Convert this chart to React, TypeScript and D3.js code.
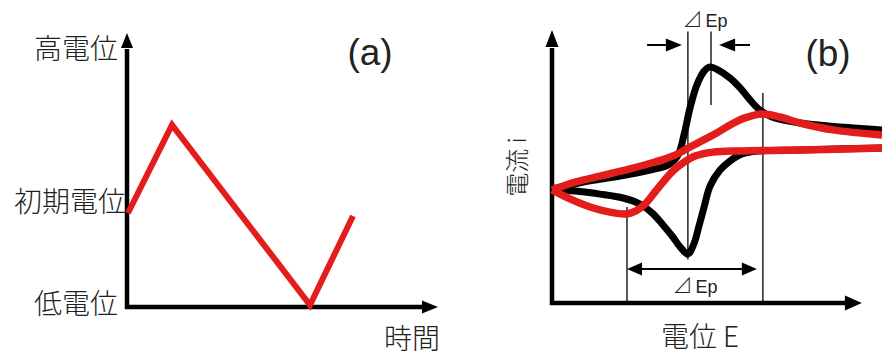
import React from "react";
import * as d3 from "d3";

// ---------- Panel (a): potential sweep vs time ----------
const sweepTime = [0.1, 4.5, 18.3, 22.6];
const sweepPotential = [9.4, 18.2, 0.2, 9.1];
const potentialLabels = ["高電位", "初期電位", "低電位"];
const potentialLabelValues = [26.0, 10.7, 0.5];
const timeLabel = "時間";

// ---------- Panel (b): cyclic voltammograms ----------
const blackForwardE = [0, 1.27, 2.27, 3.27, 3.87, 4.2, 4.4, 4.6, 4.83, 5.07, 5.27, 5.53, 5.93, 6.27, 6.6, 6.93, 7.33, 8.27, 9.6, 11.0];
const blackForwardI = [0, 0.27, 0.43, 0.63, 0.8, 1.13, 1.8, 2.7, 3.47, 3.93, 4.07, 3.97, 3.7, 3.37, 2.97, 2.63, 2.4, 2.2, 2.07, 1.97];
const blackReverseE = [11.0, 8.27, 6.93, 6.33, 5.93, 5.6, 5.27, 5.07, 4.9, 4.73, 4.53, 4.27, 4.03, 3.7, 3.37, 2.93, 2.37, 1.6, 0.77, 0];
const blackReverseI = [1.37, 1.3, 1.27, 1.17, 0.93, 0.63, 0.1, -0.6, -1.23, -1.83, -2.17, -1.93, -1.6, -1.2, -0.83, -0.5, -0.3, -0.17, -0.07, 0];
const redForwardE = [0, 0.77, 1.6, 2.6, 3.43, 4.03, 4.6, 4.93, 5.43, 5.93, 6.43, 7.0, 7.6, 8.27, 9.37, 11.0];
const redForwardI = [-0.03, 0.23, 0.43, 0.67, 0.9, 1.1, 1.4, 1.57, 1.83, 2.13, 2.37, 2.5, 2.4, 2.2, 1.97, 1.8];
const redReverseE = [11.0, 8.27, 6.27, 5.37, 4.77, 4.37, 4.03, 3.7, 3.43, 3.1, 2.8, 2.47, 1.93, 1.27, 0.6, 0];
const redReverseI = [1.37, 1.3, 1.27, 1.23, 1.1, 0.87, 0.6, 0.23, -0.1, -0.5, -0.73, -0.83, -0.77, -0.6, -0.33, -0.03];

// peak potentials (black: reversible, red: quasi-reversible)
const blackAnodicEp = 5.3;
const blackCathodicEp = 4.53;
const redAnodicEp = 7.03;
const redCathodicEp = 2.5;

const deltaSymbol = "⊿";
const deltaText = "Ep";
const currentLabel = "電流 i";
const potentialAxisLabel = "電位 E";
const panelLabels = ["(a)", "(b)"];

const W = 882;
const H = 356;
const RED = "#e31c1c";
const CJK = "'Noto Sans CJK JP', 'Noto Sans CJK SC', sans-serif";
const LATIN = "'Liberation Sans', Arial, 'Noto Sans CJK JP', sans-serif";

function arrowHead(tx: number, ty: number, dir: "up" | "right" | "left", len: number, half: number) {
  const p = d3.path();
  p.moveTo(tx, ty);
  if (dir === "up") {
    p.lineTo(tx - half, ty + len);
    p.lineTo(tx + half, ty + len);
  } else if (dir === "right") {
    p.lineTo(tx - len, ty - half);
    p.lineTo(tx - len, ty + half);
  } else {
    p.lineTo(tx + len, ty - half);
    p.lineTo(tx + len, ty + half);
  }
  p.closePath();
  return p.toString();
}

function DeltaEp({ x, y }: { x: number; y: number }) {
  return (
    <text x={x} y={y} textAnchor="middle" fontFamily={LATIN} fontSize={18} fill="#222">
      <tspan fontFamily={CJK} fontSize={20} fontWeight={300}>
        {deltaSymbol}
      </tspan>
      <tspan dx={3}>{deltaText}</tspan>
    </text>
  );
}

export default function App() {
  // Panel (a) scales
  const ax = d3.scaleLinear().domain([0, 31]).range([127, 437]);
  const ay = d3.scaleLinear().domain([0, 27.4]).range([307, 33]);
  const aLine = d3
    .line<number>()
    .x((_, i) => ax(sweepTime[i]))
    .y((v) => ay(v));

  // Panel (b) scales
  const bx = d3.scaleLinear().domain([0, 11]).range([552, 882]);
  const by = d3.scaleLinear().domain([-3.8, 5.3]).range([303, 30]);
  const cv = (E: number[], I: number[]) =>
    d3
      .line<number>()
      .x((e) => bx(e))
      .y((_, k) => by(I[k]))
      .curve(d3.curveCatmullRom.alpha(0.5))(E) as string;

  const aAxisX = ax(0);
  const aAxisY = ay(0);
  const bAxisX = bx(0);
  const bAxisY = by(-3.8);

  const topArrowY = by(4.8);
  const botArrowY = by(-2.67);

  return (
    <svg
      width={W}
      height={H}
      viewBox={`0 0 ${W} ${H}`}
      style={{ position: "absolute", left: 0, top: 0, background: "#fff" }}
    >
      <rect width={W} height={H} fill="#fff" />

      {/* ---------- Panel (a) ---------- */}
      <line x1={aAxisX} y1={aAxisY + 2} x2={aAxisX} y2={ay(25.8)} stroke="#000" strokeWidth={4.5} />
      <path d={arrowHead(aAxisX, ay(27.4), "up", 15, 6)} fill="#000" />
      <line x1={aAxisX - 2} y1={aAxisY} x2={ax(29.7)} y2={aAxisY} stroke="#000" strokeWidth={4.5} />
      <path d={arrowHead(ax(31.1), aAxisY, "right", 16, 6.5)} fill="#000" />
      <path d={aLine(sweepPotential) as string} fill="none" stroke={RED} strokeWidth={6} strokeLinejoin="miter" />

      {potentialLabels.map((t, i) => (
        <text
          key={t}
          x={i === 1 ? 126 : 118}
          y={ay(potentialLabelValues[i])}
          textAnchor="end"
          dominantBaseline="central"
          fontFamily={CJK}
          fontSize={28}
          fontWeight={300}
          fill="#222"
        >
          {t}
        </text>
      ))}
      <text x={384} y={337} dominantBaseline="central" fontFamily={CJK} fontSize={28} fontWeight={300} fill="#222">
        {timeLabel}
      </text>
      <text x={370} y={65} textAnchor="middle" fontFamily={LATIN} fontSize={37} fill="#222">
        {panelLabels[0]}
      </text>

      {/* ---------- Panel (b) ---------- */}
      <line x1={bAxisX} y1={bAxisY + 2} x2={bAxisX} y2={by(4.7)} stroke="#000" strokeWidth={4.5} />
      <path d={arrowHead(bAxisX, by(5.3), "up", 17, 6.5)} fill="#000" />
      <line x1={bAxisX - 2} y1={bAxisY} x2={bx(9.9)} y2={bAxisY} stroke="#000" strokeWidth={4.5} />
      <path d={arrowHead(bx(10.33), bAxisY, "right", 17, 7.5)} fill="#000" />

      {/* peak marker lines */}
      <line x1={bx(blackCathodicEp)} y1={by(5.25)} x2={bx(blackCathodicEp)} y2={by(-2.35)} stroke="#000" strokeWidth={1.3} />
      <line x1={bx(blackAnodicEp)} y1={by(5.25)} x2={bx(blackAnodicEp)} y2={by(2.8)} stroke="#000" strokeWidth={1.3} />
      <line x1={bx(redCathodicEp)} y1={by(-0.6)} x2={bx(redCathodicEp)} y2={bAxisY} stroke="#000" strokeWidth={1.3} />
      <line x1={bx(redAnodicEp)} y1={by(3.2)} x2={bx(redAnodicEp)} y2={bAxisY} stroke="#000" strokeWidth={1.3} />

      {/* top ΔEp arrows */}
      <line x1={bx(3.17)} y1={topArrowY} x2={bx(4.0)} y2={topArrowY} stroke="#000" strokeWidth={2} />
      <path d={arrowHead(bx(4.33), topArrowY, "right", 16, 6.5)} fill="#000" />
      <line x1={bx(6.6)} y1={topArrowY} x2={bx(5.9)} y2={topArrowY} stroke="#000" strokeWidth={2} />
      <path d={arrowHead(bx(5.57), topArrowY, "left", 16, 6.5)} fill="#000" />

      {/* bottom ΔEp double arrow */}
      <line x1={bx(redCathodicEp) + 10} y1={botArrowY} x2={bx(6.83) - 10} y2={botArrowY} stroke="#000" strokeWidth={2} />
      <path d={arrowHead(bx(redCathodicEp), botArrowY, "left", 15, 6.5)} fill="#000" />
      <path d={arrowHead(bx(6.83), botArrowY, "right", 15, 6.5)} fill="#000" />

      {/* curves */}
      <path d={cv(blackForwardE, blackForwardI)} fill="none" stroke="#000" strokeWidth={7} strokeLinejoin="round" />
      <path d={cv(blackReverseE, blackReverseI)} fill="none" stroke="#000" strokeWidth={7} strokeLinejoin="round" />
      <path d={cv(redForwardE, redForwardI)} fill="none" stroke={RED} strokeWidth={7.5} strokeLinejoin="round" />
      <path d={cv(redReverseE, redReverseI)} fill="none" stroke={RED} strokeWidth={7.5} strokeLinejoin="round" />

      {/* texts */}
      <DeltaEp x={705} y={27} />
      <DeltaEp x={695} y={293} />
      <text
        x={515}
        y={167}
        textAnchor="middle"
        dominantBaseline="central"
        transform="rotate(-90 515 167)"
        fontFamily={CJK}
        fontSize={24}
        fontWeight={300}
        fill="#222"
      >
        {currentLabel}
      </text>
      <text x={700} y={335} textAnchor="middle" dominantBaseline="central" fontFamily={CJK} fontSize={28} fontWeight={300} fill="#222">
        {potentialAxisLabel}
      </text>
      <text x={828} y={66} textAnchor="middle" fontFamily={LATIN} fontSize={37} fill="#222">
        {panelLabels[1]}
      </text>
    </svg>
  );
}
